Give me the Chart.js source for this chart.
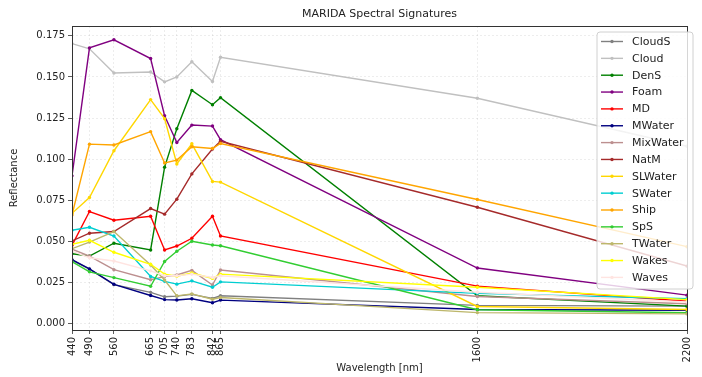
<!DOCTYPE html>
<html><head><meta charset="utf-8">
<script src="https://cdn.jsdelivr.net/npm/chart.js@4.4.0/dist/chart.umd.min.js"></script>
<style>html,body{margin:0;padding:0;background:#fff;}canvas{display:block;}</style>
</head><body>
<canvas id="c" width="702" height="377"></canvas>
<script>
// ---- data ----
const wavelengths = [440, 490, 560, 665, 705, 740, 783, 842, 865, 1600, 2200];
const xTickLabels = wavelengths;
const yTickValues = [0, 0.025, 0.05, 0.075, 0.1, 0.125, 0.15, 0.175];

const seriesNames = ["CloudS","Cloud","DenS","Foam","MD","MWater","MixWater","NatM","SLWater","SWater","Ship","SpS","TWater","Wakes","Waves"];

const cloudS   = [0.0385, 0.0330, 0.0236, 0.0189, 0.0162, 0.0166, 0.0177, 0.0152, 0.0168, 0.0110, 0.0105];
const cloud    = [0.1703, 0.1671, 0.1524, 0.1530, 0.1470, 0.1500, 0.1592, 0.1472, 0.1620, 0.1370, 0.1078];
const denS     = [0.0424, 0.0410, 0.0488, 0.0447, 0.0951, 0.1185, 0.1418, 0.1331, 0.1374, 0.0168, 0.0105];
const foam     = [0.0898, 0.1677, 0.1726, 0.1612, 0.1264, 0.1101, 0.1207, 0.1201, 0.1118, 0.0337, 0.0172];
const md       = [0.0475, 0.0681, 0.0628, 0.0652, 0.0447, 0.0471, 0.0518, 0.0652, 0.0532, 0.0227, 0.0135];
const mWater   = [0.0388, 0.0332, 0.0238, 0.0170, 0.0145, 0.0143, 0.0150, 0.0126, 0.0142, 0.0085, 0.0080];
const mixWater = [0.0452, 0.0410, 0.0327, 0.0266, 0.0285, 0.0295, 0.0323, 0.0234, 0.0325, 0.0164, 0.0120];
const natM     = [0.0502, 0.0549, 0.0559, 0.0699, 0.0665, 0.0756, 0.0910, 0.1061, 0.1108, 0.0707, 0.0349];
const slWater  = [0.0670, 0.0766, 0.1051, 0.1362, 0.1246, 0.0970, 0.1093, 0.0864, 0.0860, 0.0103, 0.0085];
const sWater   = [0.0567, 0.0585, 0.0532, 0.0286, 0.0256, 0.0239, 0.0259, 0.0220, 0.0253, 0.0183, 0.0150];
const ship     = [0.0660, 0.1091, 0.1086, 0.1167, 0.0976, 0.0994, 0.1075, 0.1065, 0.1095, 0.0754, 0.0467];
const spS      = [0.0376, 0.0314, 0.0279, 0.0226, 0.0377, 0.0439, 0.0500, 0.0477, 0.0473, 0.0083, 0.0065];
const tWater   = [0.0455, 0.0495, 0.0559, 0.0356, 0.0264, 0.0168, 0.0180, 0.0147, 0.0158, 0.0066, 0.0058];
const wakes    = [0.0482, 0.0506, 0.0433, 0.0360, 0.0300, 0.0287, 0.0307, 0.0274, 0.0300, 0.0220, 0.0145];
const waves    = [0.0440, 0.0400, 0.0380, 0.0320, 0.0290, 0.0290, 0.0300, 0.0280, 0.0290, 0.0190, 0.0130];

const seriesValues = [cloudS, cloud, denS, foam, md, mWater, mixWater, natM, slWater, sWater, ship, spS, tWater, wakes, waves];

// ---- styles ----
const seriesColors = ["gray","silver","green","purple","red","navy","rosybrown","brown","gold","darkturquoise","orange","limegreen","darkkhaki","yellow","mistyrose"];

Chart.defaults.font.family = "'DejaVu Sans', sans-serif";
Chart.defaults.color = "#222";

const N = seriesNames.length;
const datasets = seriesNames.map((name, i) => ({
  label: name,
  data: wavelengths.map((w, j) => ({x: w, y: seriesValues[i][j]})),
  borderColor: seriesColors[i],
  backgroundColor: seriesColors[i],
  borderWidth: 1.4,
  pointRadius: 1.7,
  pointBorderWidth: 0,
  pointHoverRadius: 0,
  tension: 0,
  order: N - i
}));

const framePlugin = {
  id: 'frame',
  afterDatasetsDraw(chart) {
    const {ctx, chartArea: a} = chart;
    ctx.save();
    ctx.strokeStyle = '#333';
    ctx.lineWidth = 1;
    ctx.strokeRect(Math.round(a.left) + 0.5, Math.round(a.top) + 0.5, Math.round(a.right - a.left), Math.round(a.bottom - a.top));
    ctx.restore();
  }
};

const legendPlugin = {
  id: 'innerLegend',
  afterDraw(chart) {
    const {ctx} = chart;
    const boxL = 597, boxT = 32, boxW = 96, boxH = 257, r = 3;
    ctx.save();
    ctx.beginPath();
    ctx.moveTo(boxL + r, boxT);
    ctx.arcTo(boxL + boxW, boxT, boxL + boxW, boxT + boxH, r);
    ctx.arcTo(boxL + boxW, boxT + boxH, boxL, boxT + boxH, r);
    ctx.arcTo(boxL, boxT + boxH, boxL, boxT, r);
    ctx.arcTo(boxL, boxT, boxL + boxW, boxT, r);
    ctx.closePath();
    ctx.fillStyle = 'rgba(255,255,255,0.8)';
    ctx.fill();
    ctx.strokeStyle = '#d0d0d0';
    ctx.lineWidth = 1;
    ctx.stroke();
    ctx.font = "11px 'DejaVu Sans'";
    ctx.textBaseline = 'middle';
    ctx.textAlign = 'left';
    chart.data.datasets.forEach((ds, i) => {
      const y = 41.5 + i * 16.85;
      ctx.strokeStyle = ds.borderColor;
      ctx.lineWidth = 1.4;
      ctx.beginPath();
      ctx.moveTo(601, y);
      ctx.lineTo(623, y);
      ctx.stroke();
      ctx.fillStyle = ds.borderColor;
      ctx.beginPath();
      ctx.arc(612, y, 1.7, 0, Math.PI * 2);
      ctx.fill();
      ctx.fillStyle = '#222';
      ctx.fillText(ds.label, 632, y + 0.5);
    });
    ctx.restore();
  }
};

new Chart(document.getElementById('c'), {
  type: 'line',
  data: {datasets},
  plugins: [framePlugin, legendPlugin],
  options: {
    responsive: false,
    animation: false,
    devicePixelRatio: 1,
    layout: {padding: {left: 0, right: 7, top: 0, bottom: 0}},
    plugins: {
      legend: {display: false},
      tooltip: {enabled: false},
      title: {
        display: true,
        text: 'MARIDA Spectral Signatures',
        fullSize: false,
        font: {size: 11, weight: 'normal'},
        color: '#222',
        padding: {top: 8, bottom: 4.8}
      }
    },
    scales: {
      x: {
        type: 'linear',
        min: 440,
        max: 2200,
        afterBuildTicks(s) { s.ticks = xTickLabels.map(v => ({value: v})); },
        afterFit(s) { s.height = 47; },
        ticks: {
          autoSkip: false,
          maxRotation: 90,
          minRotation: 90,
          padding: 3,
          font: {size: 10},
          color: '#222',
          callback: v => String(v)
        },
        grid: {
          color: 'rgba(0,0,0,0.09)',
          lineWidth: 0.8,
          tickColor: '#333',
          tickLength: 4,
          tickWidth: 0.8,
          tickBorderDash: []
        },
        border: {display: false, dash: [2, 2]},
        title: {display: true, text: 'Wavelength [nm]', font: {size: 10}, color: '#222', padding: {top: 0, bottom: 3}}
      },
      y: {
        type: 'linear',
        min: -0.004,
        max: 0.181,
        afterBuildTicks(s) { s.ticks = yTickValues.map(v => ({value: v})); },
        afterFit(s) { s.width = 72; },
        ticks: {
          padding: 3,
          font: {size: 10},
          color: '#222',
          callback: v => Number(v).toFixed(3)
        },
        grid: {
          color: 'rgba(0,0,0,0.09)',
          lineWidth: 0.8,
          tickColor: '#333',
          tickLength: 4,
          tickWidth: 0.8,
          tickBorderDash: []
        },
        border: {display: false, dash: [2, 2]},
        title: {display: true, text: 'Reflectance', font: {size: 10}, color: '#222', padding: {top: 8, bottom: 0}}
      }
    }
  }
});
</script>
</body></html>
